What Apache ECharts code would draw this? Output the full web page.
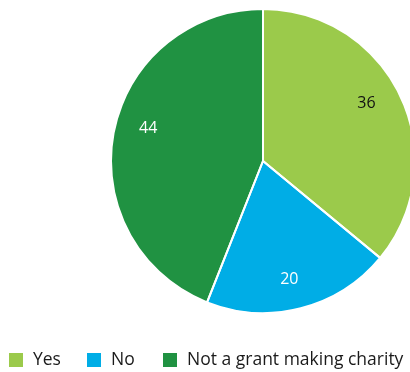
<!DOCTYPE html>
<html>
<head>
<meta charset="utf-8">
<script src="https://cdn.jsdelivr.net/npm/echarts@6/dist/echarts.min.js"></script>
<style>
html, body { margin: 0; padding: 0; background: #fff; }
#chart { width: 410px; height: 372px; }
</style>
</head>
<body>
<div id="chart"></div>
<script>
const categories = ['Yes', 'No', 'Not a grant making charity'];
const values = [36, 20, 44];
const colors = ['#9bca4b', '#00ade6', '#209242'];
const labelColors = ['#111111', '#ffffff', '#ffffff'];
// small nudges of each value label inside its slice
const labelOffsets = [[-7, -6], [-4, 0], [5, -10]];
// left edge of each legend entry
const legendLefts = [9, 87, 163];

const FONT = '"Open Sans", "Noto Sans", sans-serif';
const CENTER = [263, 161];
const RADIUS = 152;

const sliceData = categories.map((name, i) => ({
  name,
  value: values[i],
  itemStyle: { color: colors[i] }
}));

const outlineData = categories.map((name, i) => ({ name, value: values[i] }));

const labelData = categories.map((name, i) => ({
  name,
  value: values[i],
  label: { color: labelColors[i], offset: labelOffsets[i] }
}));

const legends = categories.map((name, i) => ({
  data: [name],
  left: legendLefts[i],
  top: 351,
  padding: 0,
  icon: 'rect',
  itemWidth: 14,
  itemHeight: 14,
  itemGap: 0,
  selectedMode: false,
  textStyle: {
    fontFamily: FONT,
    fontSize: 17.5,
    color: '#1a1a1a',
    padding: [0, 0, 0, 5]
  }
}));

const chart = echarts.init(document.getElementById('chart'), null, { renderer: 'canvas' });
chart.setOption({
  animation: false,
  color: colors,
  legend: legends,
  series: [
    {
      // filled slices
      type: 'pie',
      center: CENTER,
      radius: [0, RADIUS],
      startAngle: 90,
      clockwise: true,
      silent: true,
      label: { show: false },
      labelLine: { show: false },
      itemStyle: { borderWidth: 0 },
      data: sliceData
    },
    {
      // white separators between slices
      type: 'pie',
      center: CENTER,
      radius: [0, RADIUS],
      startAngle: 90,
      clockwise: true,
      silent: true,
      legendHoverLink: false,
      label: { show: false },
      labelLine: { show: false },
      itemStyle: { color: 'rgba(0,0,0,0)', borderColor: '#ffffff', borderWidth: 2 },
      data: outlineData
    },
    {
      // ring used only to place the value labels further out
      type: 'pie',
      center: CENTER,
      radius: [86, RADIUS],
      startAngle: 90,
      clockwise: true,
      silent: true,
      legendHoverLink: false,
      itemStyle: { color: 'rgba(0,0,0,0)', borderWidth: 0 },
      label: {
        show: true,
        position: 'inside',
        formatter: '{c}',
        fontFamily: FONT,
        fontSize: 16
      },
      labelLine: { show: false },
      data: labelData
    }
  ]
});
</script>
</body>
</html>
